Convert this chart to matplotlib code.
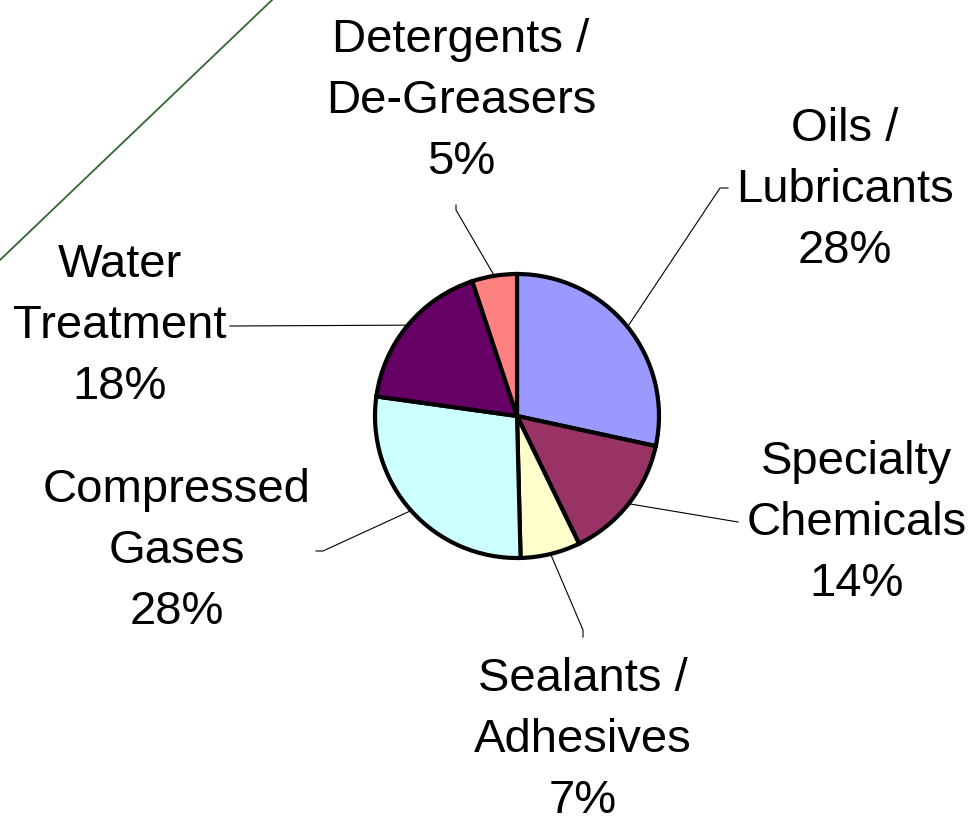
import matplotlib.pyplot as plt
import numpy as np

plt.rcParams['font.family'] = ['Liberation Sans', 'DejaVu Sans']

# slices, clockwise from 12 o'clock (shares)
labels = ['Oils /\nLubricants', 'Specialty\nChemicals', 'Sealants /\nAdhesives',
          'Compressed\nGases', 'Water\nTreatment', 'Detergents /\nDe-Greasers']
shares = [28.4, 14.4, 6.8, 27.6, 17.7, 5.1]
colors = ['#9999FF', '#993366', '#FFFFCC', '#CCFFFF', '#660066', '#FF8080']

W, H = 972, 825
# layout in pixel coords (y down): label centre, leader elbow, leader end
label_xy = [(845, 190), (857, 523), (583, 740), (177, 551), (120, 326), (461, 101)]
elbow_xy = [(720, 188), (738, 522), (583, 630), (323, 551), (230, 326), (456, 210)]
end_xy = [(728, 188), (738, 522), (583, 637), (316, 551), (230, 326), (456, 205)]

cx, cy, rad = 517, 416, 142

fig = plt.figure(figsize=(W / 100, H / 100), dpi=100)
ax = fig.add_axes([0, 0, 1, 1])

wedges, _ = ax.pie(shares, colors=colors, startangle=90, counterclock=False,
                   center=(cx, H - cy), radius=rad,
                   wedgeprops=dict(edgecolor='black', linewidth=3))

for w, lab, s, (lx, ly), (ex, ey), (sx, sy) in zip(wedges, labels, shares,
                                                     label_xy, elbow_xy, end_xy):
    mid = np.deg2rad((w.theta1 + w.theta2) / 2)
    px = cx + rad * np.cos(mid)
    py = (H - cy) + rad * np.sin(mid)
    ax.plot([px, ex, sx], [py, H - ey, H - sy], color='black', lw=0.8,
            solid_joinstyle='miter')
    ax.text(lx, H - ly, f'{lab}\n{round(s)}%', ha='center', va='center',
            fontsize=34, linespacing=1.5)

# decorative diagonal from the slide
ax.plot([0, 272], [H - 260, H], color='#336633', lw=1.3, clip_on=False)

ax.set_xlim(0, W)
ax.set_ylim(0, H)
ax.set_aspect('equal')
ax.axis('off')

fig.savefig('out.png', dpi=100)
